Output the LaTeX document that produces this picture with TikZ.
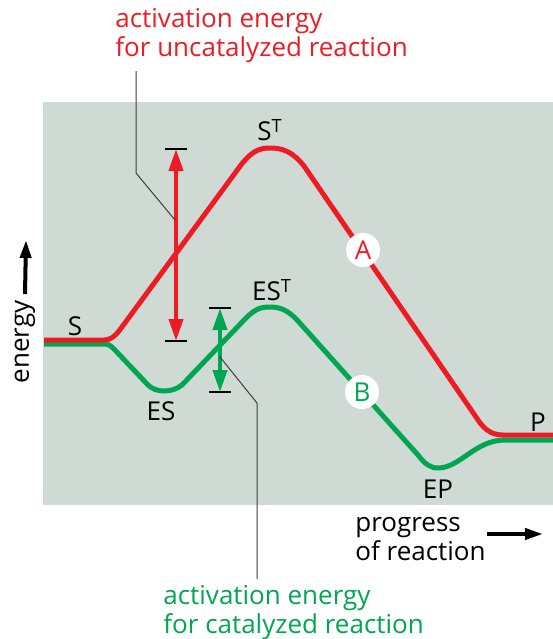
\documentclass[tikz,border=0pt]{standalone}
\usepackage{fontspec}
\setmainfont{Open Sans}
\usetikzlibrary{arrows.meta, positioning}
\definecolor{rxnred}{RGB}{237, 28, 36}
\definecolor{rxngreen}{RGB}{0, 166, 81}
\definecolor{panelgray}{RGB}{208, 218, 213}
\definecolor{leadergray}{RGB}{60, 60, 60}

\begin{document}
\begin{tikzpicture}[
  x=0.5pt, y=-0.5pt,
  lbl/.style={font=\fontsize{13}{14.5}\selectfont, inner sep=0pt},
  note/.style={lbl, align=left, anchor=north west},
  curvered/.style={line width=2.5pt, rxnred, line join=round},
  curvegreen/.style={line width=2.5pt, rxngreen, line join=round},
  span/.style={line width=2pt, {Triangle[length=11pt,width=7pt]}-{Triangle[length=11pt,width=7pt]}},
  bar/.style={line width=1pt, black},
  leader/.style={line width=0.5pt, leadergray},
  badge/.style={circle, fill=white, minimum size=17pt, inner sep=0pt, font=\fontsize{13}{14}\selectfont},
  axis/.style={line width=2pt, -{Triangle[length=9pt,width=5.5pt]}}
]
\useasboundingbox (0,0) rectangle (553,639);
\fill[panelgray] (43,102) rectangle (553,505);

% energy profiles
\draw[curvegreen] (44,344) -- (104,344) .. controls (109,344) and (111,346) .. (114,349)
  -- (148,385) .. controls (156,393) and (172,393) .. (182,385)
  -- (246,318) .. controls (256,308) and (262,307) .. (270,307)
  .. controls (280,307) and (288,310) .. (298,321)
  -- (418,455) .. controls (425,464) and (430,468) .. (438,468)
  .. controls (460,468) and (475,440) .. (505,440) -- (553,440);
\draw[curvered] (44,340) -- (104,340) .. controls (110,340) and (114,337) .. (119,331)
  -- (238,169) .. controls (251,151) and (259,148) .. (270,148)
  .. controls (282,148) and (292,151) .. (304,166)
  -- (476,417) .. controls (483,428) and (490,435) .. (503,435) -- (553,435);

% activation energy spans
\coordinate (redtop) at (176,149);
\coordinate (redbot) at (176,341);
\coordinate (greentop) at (220,308);
\coordinate (greenbot) at (220,392);
\draw[span, rxnred] (redbot) -- (redtop);
\draw[span, rxngreen] (greenbot) -- (greentop);
\foreach \p in {redtop, redbot, greentop, greenbot}
  \draw[bar] (\p) +(-11,0) -- +(11,0);

% state labels
\node[lbl] (S) at (75,326) {S};
\node[lbl] (ST) at (270,130) {S\textsuperscript{T}};
\node[lbl] (EST) at (272,290) {ES\textsuperscript{T}};
\node[lbl] (ES) at (161,411) {ES};
\node[lbl] (EP) at (438,489) {EP};
\node[lbl] (P) at (538,422) {P};
\node[badge, text=rxnred] (A) at (363,250) {A};
\node[badge, text=rxngreen] (B) at (362,392) {B};

% annotations
\node[note, text=rxnred] (uncat) at (115,8) {activation energy\\for uncatalyzed reaction};
\node[note, text=rxngreen] (cat) at (163,585) {activation energy\\for catalyzed reaction};
\coordinate (redknee) at (136,173);
\coordinate (redhit) at (175,220);
\coordinate (greenhit) at (220,357);
\coordinate (greenknee) at (257,403);
\draw[leader] ([yshift=-4pt]redknee |- uncat.south) -- (redknee) -- (redhit);
\draw[leader] (greenhit) -- (greenknee) -- ([yshift=3pt]greenknee |- cat.north);

% axes
\node[lbl, rotate=90] (energy) at (25,342) {energy};
\coordinate (energytip) at (26,240);
\draw[axis] ([yshift=3pt]energy.east) -- (energytip);
\node[note] (progress) at (355,517) {progress\\of reaction};
\coordinate (progstart) at (487,534);
\coordinate (progtip) at (543,534);
\draw[axis] (progstart) -- (progtip);
\end{tikzpicture}
\end{document}
